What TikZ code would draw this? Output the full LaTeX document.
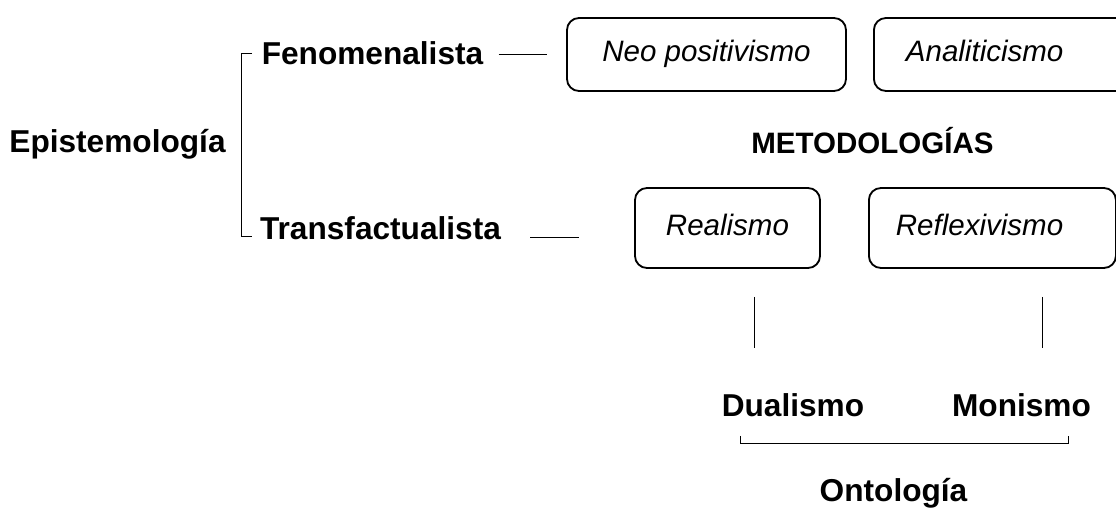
\documentclass[tikz,border=0pt]{standalone}
\usepackage{fontspec}
\setmainfont{Liberation Sans}
\tikzset{
	word/.style={inner sep=0pt, font=\fontsize{22.5}{27}\selectfont\bfseries},
	box/.style={draw, line width=1.3pt, rounded corners=0.3cm, inner sep=0pt, text height=0.53cm, text depth=0.17cm, font=\fontsize{21}{25}\selectfont\itshape},
	link/.style={line width=0.7pt}
}

\begin{document}
\begin{tikzpicture}
			%%%%% START %%%%%
			\useasboundingbox (0, 0) rectangle (27.9, 12.725);
			
			\node[word, anchor=base] (epis) at (2.9375, 8.9) {Epistemología};
			\node[word, anchor=base] (fen) at (9.3125, 11.1) {Fenomenalista};
			\node[word, anchor=base] (trans) at (9.5125, 6.725) {Transfactualista};
			\draw[link] (6.3, 11.4) -- (6.025, 11.4) -- (6.025, 6.825) -- (6.3, 6.825);
			
			\node[box, minimum width=6.975cm, minimum height=1.825cm] (neo) at (17.6625, 11.3625) {Neo positivismo};
			\node[box, anchor=west, text width=5.4cm, align=left, inner xsep=0.8cm, minimum height=1.825cm] (ana) at (21.825, 11.3625) {Analiticismo};
			
			\node[word, font=\fontsize{21}{25}\selectfont\bfseries, anchor=base] (met) at (21.8125, 8.875) {METODOLOGÍAS};
			
			\node[box, minimum width=4.625cm, minimum height=2cm] (real) at (18.1875, 7.025) {Realismo};
			\node[box, anchor=west, text width=4.825cm, align=left, inner xsep=0.675cm, minimum height=2cm] (refl) at (21.7, 7.025) {Reflexivismo};
			
			\draw[link, shorten <=0.375cm, shorten >=0.475cm] (fen.east |- neo.west) -- (neo.west);
			\coordinate (tbase) at ([yshift=0.075cm]trans.base east);
			\draw[link, shorten <=0.725cm, shorten >=1.375cm] (tbase) -- (tbase -| real.west);
			
			\draw[link] ([xshift=0.6625cm, yshift=-0.7cm]real.south) -- ++(0, -1.275);
			\draw[link] ([xshift=1.2625cm, yshift=-0.7cm]refl.south) -- ++(0, -1.275);
			
			\node[word, anchor=base] (dual) at (19.825, 2.3) {Dualismo};
			\node[word, anchor=base] (mon) at (25.5375, 2.3) {Monismo};
			\draw[link] (18.5, 1.825) -- (18.5, 1.65) -- (26.7, 1.65) -- (26.7, 1.825);
			
			\node[word, anchor=base] (onto) at (22.3375, 0.175) {Ontología};
			%%%%% END %%%%%
		\end{tikzpicture}
\end{document}
